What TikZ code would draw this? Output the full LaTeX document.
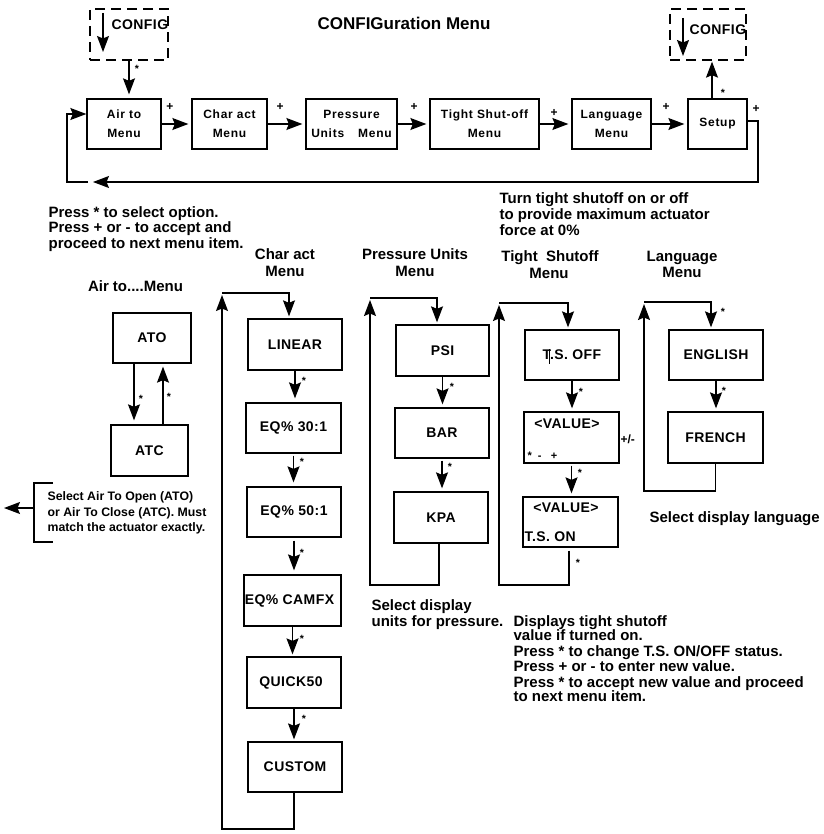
\documentclass[tikz,border=0pt]{standalone}
\usepackage{fontspec}
\setmainfont{Liberation Sans}
\newfontfamily\bxfont{Liberation Sans}[LetterSpace=3]
\newfontfamily\tpfont{Liberation Sans}[LetterSpace=6]
\usetikzlibrary{arrows.meta,calc}
\tikzset{arr/.style={-{Stealth[length=16pt,width=12pt,inset=2.5pt]}}}
\begin{document}
\begin{tikzpicture}[x=1pt,y=-1pt,line width=1.2pt,
  box/.style={draw, line width=1.3pt, inner sep=0pt, align=center, font=\bxfont\bfseries\fontsize{14}{16}\selectfont},
  topbox/.style={draw, line width=1.3pt, inner sep=0pt, align=center, font=\tpfont\bfseries\fontsize{12}{19}\selectfont},
  sz/.style 2 args={minimum width=#1pt, minimum height=#2pt},
  cfgbox/.style={draw, dash pattern=on 10pt off 6pt, line width=1.3pt, inner sep=0pt},
  cfgt/.style={inner sep=0pt, anchor=base west, font=\bxfont\bfseries\fontsize{14}{15}\selectfont},
  lbl/.style={inner sep=0pt, anchor=base west, font=\bfseries\fontsize{15}{15}\selectfont},
  coltitle/.style={inner sep=0pt, anchor=base, font=\bfseries\fontsize{15}{15}\selectfont},
  smalltxt/.style={inner sep=0pt, anchor=base west, font=\bfseries\fontsize{12.3}{15}\selectfont},
  stl/.style={inner sep=0pt, font=\bfseries\fontsize{10.5}{10}\selectfont},
  pl/.style={inner sep=0pt, font=\bfseries\fontsize{12}{12}\selectfont},
  valt/.style={inner sep=0pt, anchor=base, font=\bxfont\bfseries\fontsize{14}{15}\selectfont},
]
\useasboundingbox (0,0) rectangle (823,834);

% ---------- title ----------
\node[coltitle, font=\bfseries\fontsize{17}{17}\selectfont] (title) at (404,30) {CONFIGuration Menu};

% ---------- CONFIG boxes ----------
\node[cfgbox, sz={78}{51}] (cfg1) at (129,34.5) {};
\node[cfgbox, sz={76}{51}] (cfg2) at (708,34.5) {};
\node[cfgt] (cfg1t) at (111,30) {CONFIG};
\node[cfgt] (cfg2t) at (689,35) {CONFIG};
\coordinate (c1a) at (103,13); \coordinate (c1b) at (103,52);
\coordinate (c2a) at (683,18); \coordinate (c2b) at (683,56);
\draw[arr] (c1a) -- (c1b);
\draw[arr] (c2a) -- (c2b);

% ---------- top row ----------
\node[topbox, sz={74}{50}] (air) at (124,124) {Air to\\Menu};
\node[topbox, sz={75}{50}] (char) at (229.5,124) {Char act\\Menu};
\node[topbox, sz={91}{50}] (pres) at (351.5,124) {Pressure\\Units\hspace{14pt}Menu};
\node[topbox, sz={109}{50}] (tight) at (484.5,124) {Tight Shut-off\\Menu};
\node[topbox, sz={79}{50}] (lang) at (611.5,124) {Language\\Menu};
\node[topbox, sz={59}{50}] (setup) at (717.5,124) {Setup};

\draw[arr, shorten >=4pt] (cfg1.south) -- (cfg1.south |- air.north);
\node[stl] (s0) at (137,69) {*};
\draw[arr, shorten >=3pt] (air) -- (char);
\draw[arr, shorten >=3pt] (char) -- (pres);
\draw[arr, shorten >=3pt] (pres) -- (tight);
\draw[arr, shorten >=3pt] (tight) -- (lang);
\draw[arr, shorten >=3pt] (lang) -- (setup);
\draw[arr, shorten >=1pt] ([xshift=-5.5pt]setup.north) -- ([xshift=-5.5pt]setup.north |- cfg2.south);
\node[stl] (s00) at (723,93) {*};

\node[pl] (pa) at (170,107) {+};
\node[pl] (pb) at (280,107) {+};
\node[pl] (pc) at (414,107) {+};
\node[pl] (pd) at (554,113) {+};
\node[pl] (pe) at (666,107) {+};
\node[pl] (pf) at (756,109) {+};

\coordinate (fbR) at (758,182);
\coordinate (fbM) at (93,182);
\coordinate (fbA) at (88,182);
\coordinate (fbL) at (67,114);
\draw[arr] ([yshift=3pt]setup.east) -| (fbR) -- (fbM);
\draw[arr] (fbA) -| (fbL) -- (fbL -| air.west);

% ---------- texts ----------
\node[lbl] (p1) at (48,218) {Press * to select option.};
\node[lbl] (p2) at (48,233) {Press + or - to accept and};
\node[lbl] (p3) at (48,248) {proceed to next menu item.};

\node[lbl] (tt1) at (499,204) {Turn tight shutoff on or off};
\node[lbl] (tt2) at (499,219.5) {to provide maximum actuator};
\node[lbl] (tt3) at (499,235) {force at 0\%};

\node[coltitle] (at1) at (135.5,291) {Air to....Menu};
\node[coltitle] (ch1) at (285,259) {Char act};
\node[coltitle] (ch2) at (285,276) {Menu};
\node[coltitle] (pu1) at (415,259) {Pressure Units};
\node[coltitle] (pu2) at (415,276) {Menu};
\node[coltitle] (ts1) at (550,261) {Tight\ \ Shutoff};
\node[coltitle] (ts2) at (549,278) {Menu};
\node[coltitle] (lg1) at (682,261) {Language};
\node[coltitle] (lg2) at (682,277) {Menu};

% ---------- Air to column ----------
\node[box, sz={78}{50}] (ato) at (152,338) {ATO};
\node[box, sz={77}{51}] (atc) at (149.5,450.5) {ATC};
\draw[arr, shorten >=4pt] ([xshift=-18pt]ato.south) -- ([xshift=-15.5pt]atc.north);
\draw[arr, shorten >=3pt] ([xshift=13.5pt]atc.north) -- ([xshift=11pt]ato.south);
\node[stl] (s1) at (141,399) {*};
\node[stl] (s2) at (169,397) {*};

\coordinate (br1) at (53,483); \coordinate (br2) at (34,483);
\coordinate (br3) at (34,542); \coordinate (br4) at (53,542);
\coordinate (brm) at (34,508); \coordinate (brt) at (4,508);
\draw (br1) -- (br2) -- (br3) -- (br4);
\draw[arr] (brm) -- (brt);
\node[smalltxt] (sa1) at (47,500) {Select Air To Open (ATO)};
\node[smalltxt] (sa2) at (47,516) {or Air To Close (ATC). Must};
\node[smalltxt] (sa3) at (47,531) {match the actuator exactly.};

% ---------- Char act column ----------
\node[box, sz={94}{51}] (linear) at (295,344.5) {LINEAR};
\node[box, sz={95}{50}] (eq30) at (293.5,428) {EQ\% 30:1};
\node[box, sz={94}{50}] (eq50) at (294,512) {EQ\% 50:1};
\node[box, sz={97}{51}] (camfx) at (292.5,600.5) {\hspace{-6pt}EQ\% CAMFX};
\node[box, sz={94}{51}] (quick) at (294,682.5) {QUICK50\hspace{6pt}};
\node[box, sz={94}{50}] (custom) at (295,767) {CUSTOM};
\draw[arr, shorten >=4pt] (linear.south) -- (linear.south |- eq30.north);
\draw[arr, shorten >=4pt, shorten <=2pt] (eq30.south) -- (eq30.south |- eq50.north);
\draw[arr, shorten >=4pt, shorten <=3pt] (eq50.south) -- (eq50.south |- camfx.north);
\draw[arr, shorten >=2pt] (camfx.south) -- (camfx.south |- quick.north);
\draw[arr, shorten >=2pt] (quick.south) -- (quick.south |- custom.north);
\node[stl] (s3) at (304,381) {*};
\node[stl] (s4) at (302,462) {*};
\node[stl] (s5) at (302,553) {*};
\node[stl] (s6) at (302,639) {*};
\node[stl] (s7) at (304,719) {*};
\coordinate (cbl) at (222,829); \coordinate (ctl) at (222,293); \coordinate (ctu) at (222,295);
\draw[arr] ([xshift=-1pt]custom.south) |- (cbl) -- (ctu);
\draw[arr, shorten >=2pt] (ctl) -| ([xshift=-6pt]linear.north);

% ---------- Pressure units column ----------
\node[box, sz={93}{51}] (psi) at (442.5,350.5) {PSI};
\node[box, sz={94}{50}] (bar) at (442,433) {BAR};
\node[box, sz={94}{51}] (kpa) at (441,517.5) {KPA};
\draw[arr, shorten >=3pt] (psi.south) -- (psi.south |- bar.north);
\draw[arr, shorten >=3pt, shorten <=2pt] (bar.south) -- (bar.south |- kpa.north);
\node[stl] (s8) at (452,387) {*};
\node[stl] (s9) at (450,467) {*};
\coordinate (pbl) at (370,585); \coordinate (ptl) at (370,298); \coordinate (ptu) at (370,300);
\draw[arr] ([xshift=-2pt]kpa.south) |- (pbl) -- (ptu);
\draw[arr, shorten >=2pt] (ptl) -| ([xshift=-5.5pt]psi.north);
\node[lbl] (sp1) at (371,610) {Select display};
\node[lbl] (sp2) at (371,626) {units for pressure.};

% ---------- Tight shutoff column ----------
\node[box, sz={94}{50}] (tsoff) at (572,355) {T.S. OFF};
\coordinate (cur1) at (549,349); \coordinate (cur2) at (549,364);
\draw[line width=0.8pt] (cur1) -- (cur2);
\node[box, sz={95}{51}] (val1) at (571.5,437.5) {};
\node[box, sz={95}{50}] (val2) at (570.5,522) {};
\node[valt] (v1t) at (567,428) {<VALUE>};
\node[inner sep=0pt, anchor=base west, font=\bfseries\fontsize{11}{11}\selectfont] (v1k) at (527,459) {*\ \ -\ \ \ +};
\node[inner sep=0pt, anchor=base west, font=\bfseries\fontsize{12}{12}\selectfont] (pm) at (620,443) {+/-};
\node[valt] (v2t) at (566,512) {<VALUE>};
\node[valt, anchor=base west] (v2s) at (524,541) {T.S. ON};
\draw[arr, shorten >=3pt] (tsoff.south) -- (tsoff.south |- val1.north);
\draw[arr, shorten >=3pt, shorten <=2pt] (val1.south) -- (val1.south |- val2.north);
\node[stl] (s10) at (581,392) {*};
\node[stl] (s11) at (580,473) {*};
\node[stl] (s12) at (578,563) {*};
\coordinate (tbl) at (499,585); \coordinate (tsl) at (499,303); \coordinate (tsu) at (499,305);
\draw[arr] ([xshift=-1.5pt,yshift=-3pt]val2.south) |- (tbl) -- (tsu);
\draw[arr, shorten >=2pt] (tsl) -| ([xshift=-4pt]tsoff.north);
\node[lbl] (d1) at (513,626) {Displays tight shutoff};
\node[lbl] (d2) at (513,640) {value if turned on.};
\node[lbl] (d3) at (513,656) {Press * to change T.S. ON/OFF status.};
\node[lbl] (d4) at (513,671) {Press + or - to enter new value.};
\node[lbl] (d5) at (513,687) {Press * to accept new value and proceed};
\node[lbl] (d6) at (513,701) {to next menu item.};

% ---------- Language column ----------
\node[box, sz={94}{50}] (eng) at (716,355) {ENGLISH};
\node[box, sz={95}{51}] (fr) at (715.5,437.5) {FRENCH};
\draw[arr, shorten >=3pt] (eng.south) -- (eng.south |- fr.north);
\node[stl] (s13) at (724,391) {*};
\node[stl] (s14) at (723,312) {*};
\coordinate (lgB) at (644,491); \coordinate (lgT) at (644,302); \coordinate (lgU) at (644,304);
\draw[arr] (fr.south) |- (lgB) -- (lgU);
\draw[arr, shorten >=2pt] (lgT) -| ([xshift=-5pt]eng.north);
\node[lbl] (sl) at (649,522) {Select display language};
\end{tikzpicture}
\end{document}
